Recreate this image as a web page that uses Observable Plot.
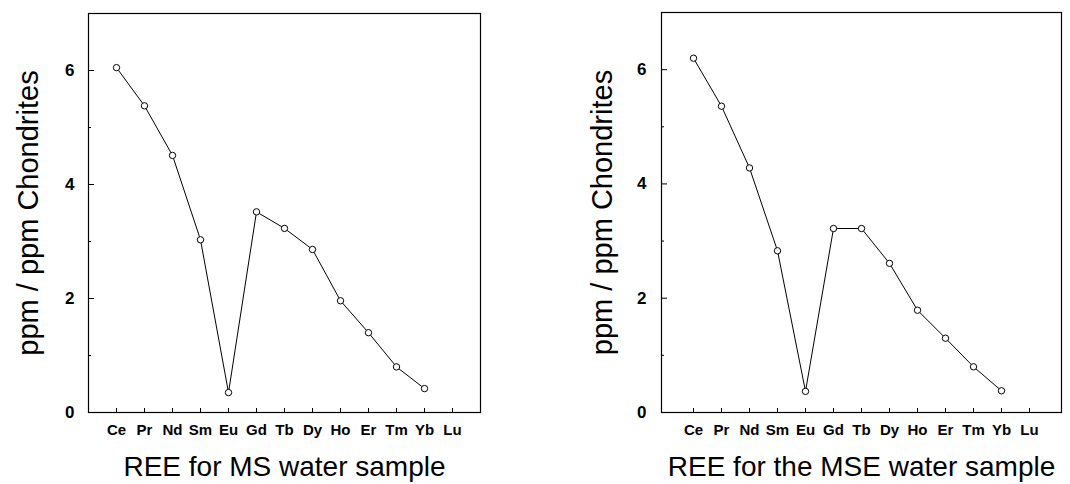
<!DOCTYPE html>
<html>
<head>
<meta charset="utf-8">
<script src="https://cdn.jsdelivr.net/npm/d3@7"></script>
<script src="https://cdn.jsdelivr.net/npm/@observablehq/plot@0.6"></script>
<style>
  body { margin: 0; background: #fff; }
  #wrap { display: flex; width: 1070px; height: 484px; }
  svg { overflow: visible; }
</style>
</head>
<body>
<div id="wrap"></div>
<script>
const elements = ["Ce","Pr","Nd","Sm","Eu","Gd","Tb","Dy","Ho","Er","Tm","Yb","Lu"];
const msValues  = [6.05, 5.38, 4.51, 3.03, 0.35, 3.52, 3.23, 2.86, 1.96, 1.40, 0.80, 0.42, null];
const mseValues = [6.20, 5.36, 4.28, 2.83, 0.37, 3.22, 3.22, 2.61, 1.79, 1.30, 0.80, 0.38, null];
const yMajorTicks = [0, 2, 4, 6];
const yMinorTicks = [1, 3, 5];
const yTitle = "ppm / ppm Chondrites";
const titles = ["REE for MS water sample", "REE for the MSE water sample"];

function panel(values, title, opts) {
  const data = elements.map((e, i) => ({el: e, v: values[i]})).filter(d => d.v != null);
  const H = 484, mb = 72;
  const pw = opts.width - opts.ml - opts.mr;
  const ph = H - opts.mt - mb;
  return Plot.plot({
    width: opts.width,
    height: H,
    marginLeft: opts.ml,
    marginRight: opts.mr,
    marginTop: opts.mt,
    marginBottom: mb,
    style: {fontFamily: "'Liberation Sans', Arial, sans-serif", color: "#000", background: "transparent"},
    x: {type: "point", domain: elements, padding: 1},
    y: {domain: [0, 7]},
    marks: [
      Plot.frame({stroke: "#000", strokeWidth: 1.2}),
      Plot.tickY(yMajorTicks, {y: d => d, insetRight: pw - 6, stroke: "#000"}),
      Plot.tickY(yMinorTicks, {y: d => d, insetRight: pw - 3, stroke: "#000"}),
      Plot.tickX(elements, {x: d => d, insetTop: ph - 4, stroke: "#000"}),
      Plot.axisY(yMajorTicks, {tickSize: 0, tickPadding: opts.tp, tickFormat: d3.format("d"), fontSize: 17, fontWeight: "bold", label: null}),
      Plot.axisX(elements, {tickSize: 0, tickPadding: 12, fontSize: 15, fontWeight: "bold", label: null}),
      Plot.text([yTitle], {frameAnchor: "left", rotate: -90, dx: -(opts.ml - opts.yt), fontSize: 29, textAnchor: "middle"}),
      Plot.text([title], {frameAnchor: "bottom", dy: 63, fontSize: 28, textAnchor: "middle"}),
      Plot.line(data, {x: "el", y: "v", stroke: "#000", strokeWidth: 1}),
      Plot.dot(data, {x: "el", y: "v", r: 3.2, stroke: "#000", fill: "#fff", strokeWidth: 1})
    ]
  });
}

const wrap = document.getElementById("wrap");
wrap.appendChild(panel(msValues, titles[0], {width: 535, ml: 88, mr: 55, mt: 13, tp: 14, yt: 28}));
wrap.appendChild(panel(mseValues, titles[1], {width: 535, ml: 126, mr: 9, mt: 12, tp: 15, yt: 67}));
</script>
</body>
</html>
